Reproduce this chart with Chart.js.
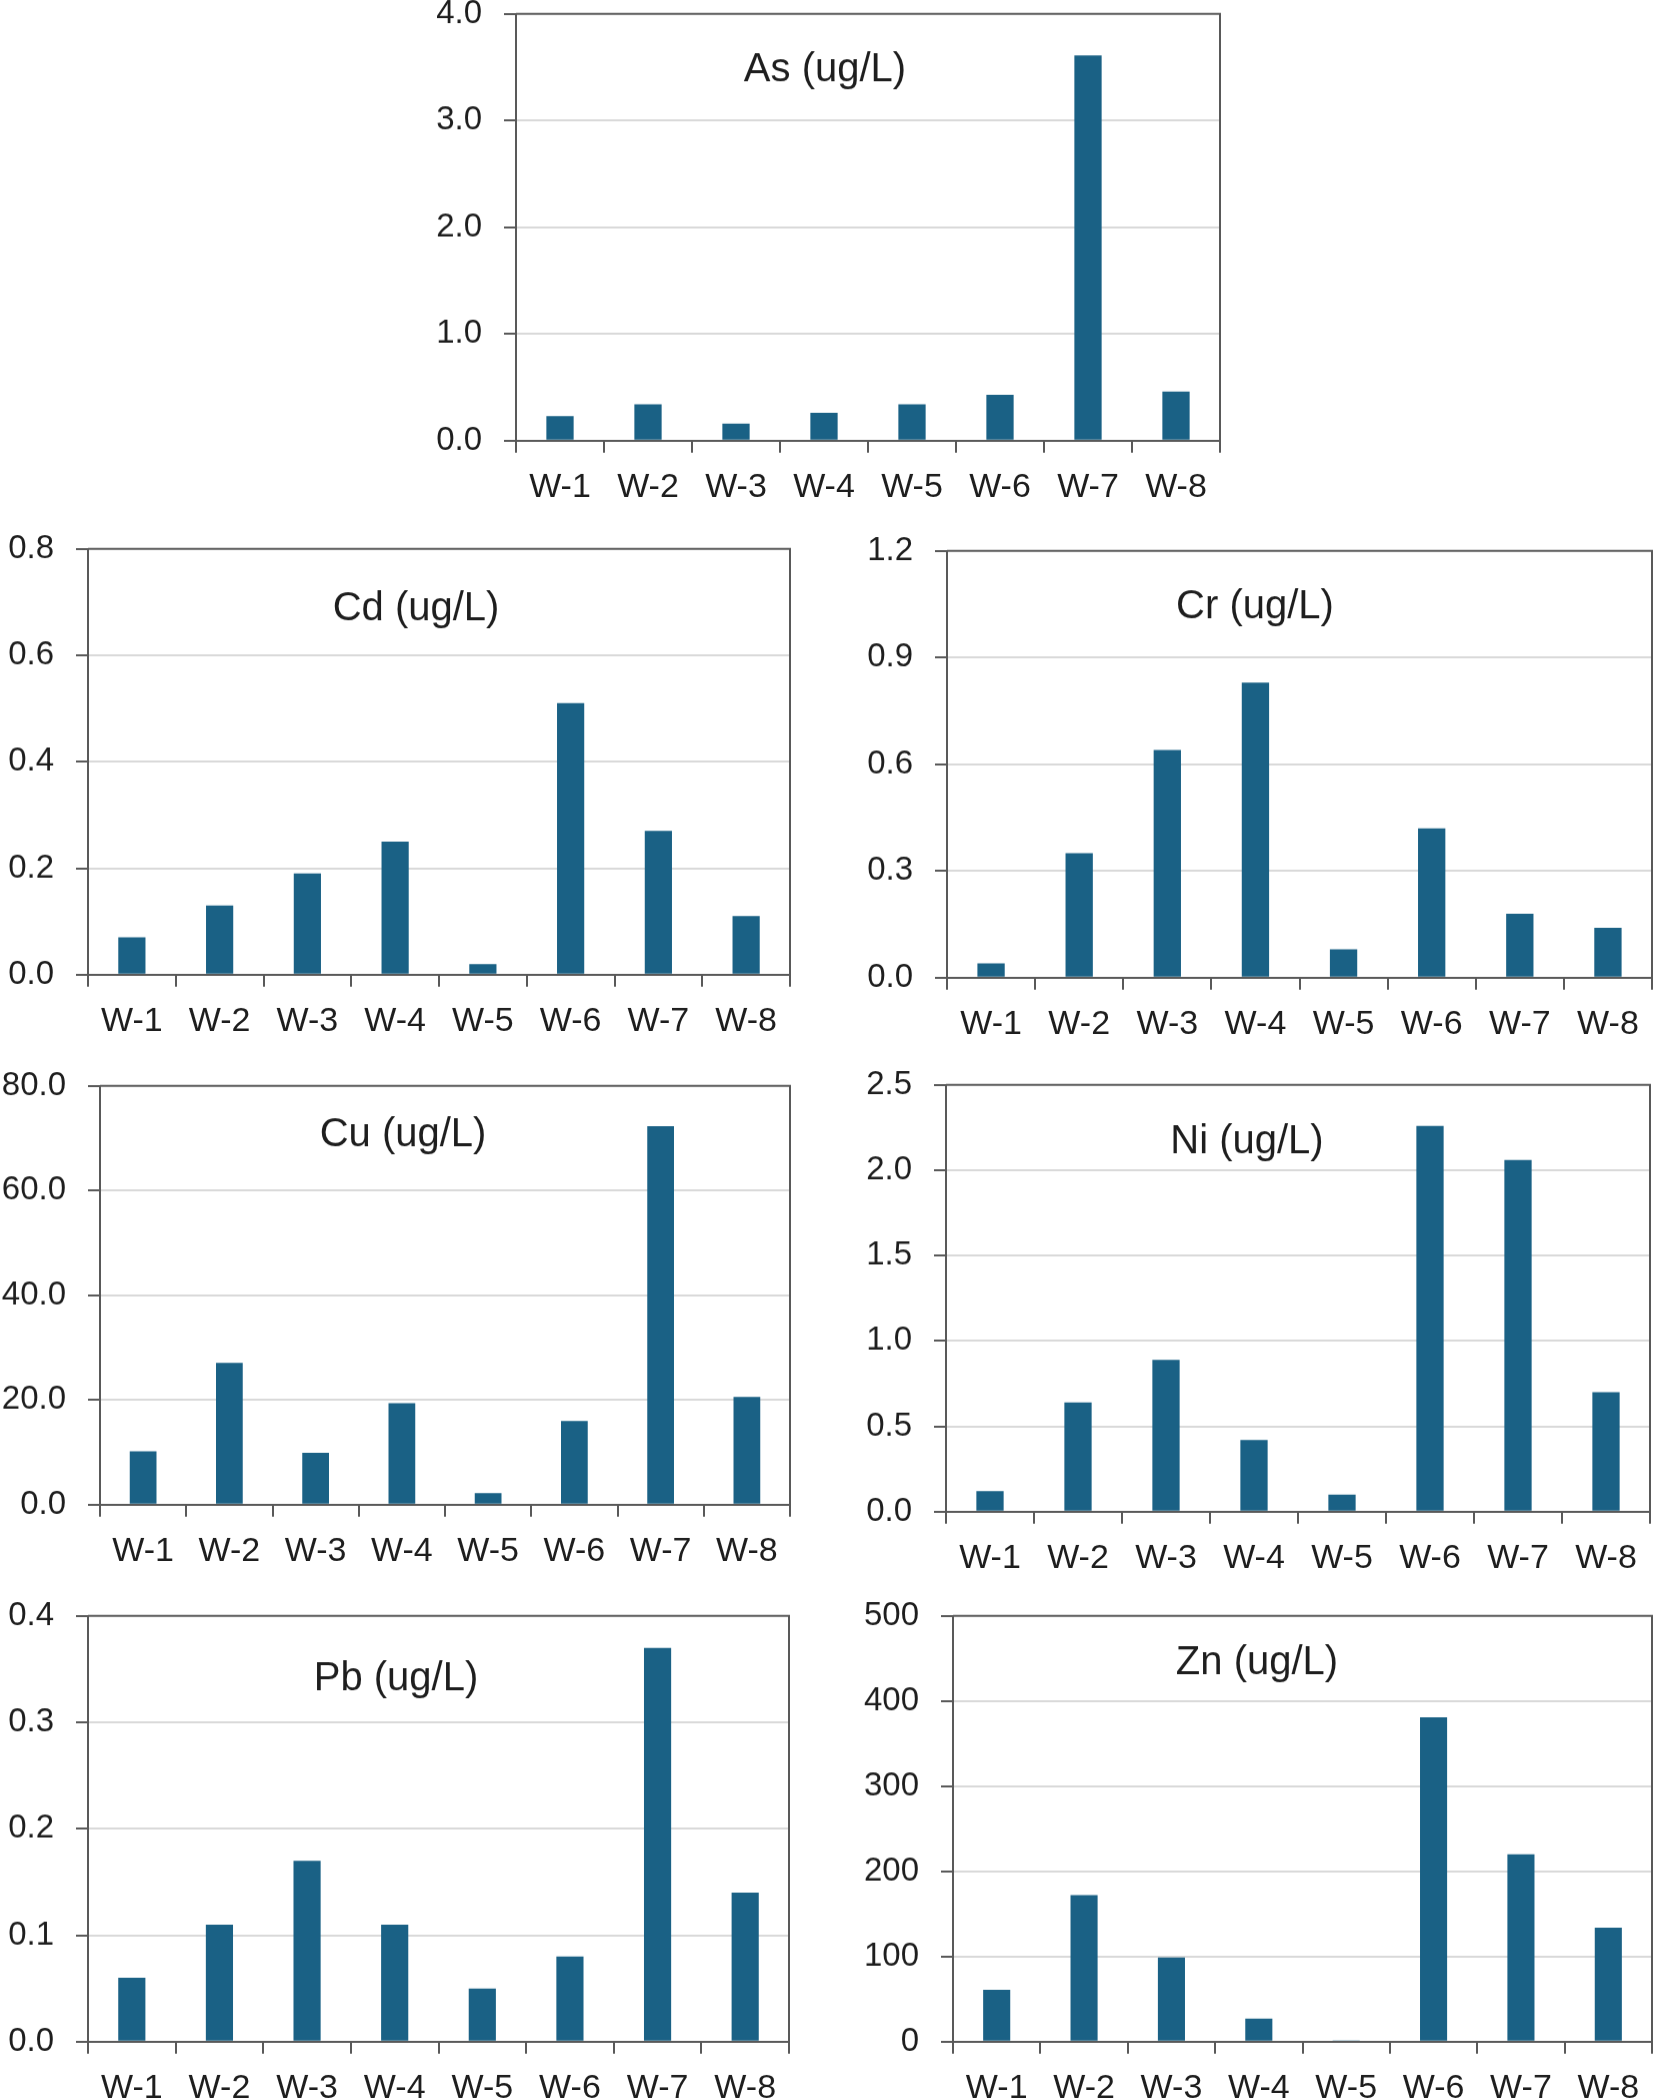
<!DOCTYPE html>
<html>
<head>
<meta charset="utf-8">
<script src="https://cdn.jsdelivr.net/npm/chart.js@4/dist/chart.umd.min.js"></script>
<style>
  html, body { margin: 0; padding: 0; background: #fff; }
  body { position: relative; width: 1655px; height: 2099px; overflow: hidden; }
  canvas { position: absolute; }
</style>
</head>
<body>
<canvas id="as"></canvas>
<canvas id="cd"></canvas>
<canvas id="cr"></canvas>
<canvas id="cu"></canvas>
<canvas id="ni"></canvas>
<canvas id="pb"></canvas>
<canvas id="zn"></canvas>
<script>
const wells = ['W-1', 'W-2', 'W-3', 'W-4', 'W-5', 'W-6', 'W-7', 'W-8'];

const asVals = [0.23, 0.34, 0.16, 0.26, 0.34, 0.43, 3.61, 0.46];
const cdVals = [0.07, 0.13, 0.19, 0.25, 0.02, 0.51, 0.27, 0.11];
const crVals = [0.04, 0.35, 0.64, 0.83, 0.08, 0.42, 0.18, 0.14];
const cuVals = [10.2, 27.1, 9.9, 19.4, 2.2, 16.0, 72.3, 20.6];
const niVals = [0.12, 0.64, 0.89, 0.42, 0.10, 2.26, 2.06, 0.70];
const pbVals = [0.06, 0.11, 0.17, 0.11, 0.05, 0.08, 0.37, 0.14];
const znVals = [61, 172, 99, 27, 1.5, 381, 220, 134];

const asTicks = [0, 1, 2, 3, 4];
const cdTicks = [0, 0.2, 0.4, 0.6, 0.8];
const crTicks = [0, 0.3, 0.6, 0.9, 1.2];
const cuTicks = [0, 20, 40, 60, 80];
const niTicks = [0, 0.5, 1.0, 1.5, 2.0, 2.5];
const pbTicks = [0, 0.1, 0.2, 0.3, 0.4];
const znTicks = [0, 100, 200, 300, 400, 500];

const barColor = '#1a6185';
const axisColor = '#595959';
const gridColor = '#d9d9d9';
const textColor = '#1e1e1e';
const fontFamily = '"Liberation Sans", Arial, sans-serif';

// draws the top/right frame and the in-plot title
const framePlugin = {
  id: 'frame',
  afterDatasetsDraw(chart, args, opts) {
    const {ctx, chartArea: a} = chart;
    ctx.save();
    ctx.strokeStyle = axisColor;
    ctx.lineWidth = 2;
    ctx.beginPath();
    ctx.moveTo(a.left, a.top);
    ctx.lineTo(a.right, a.top);
    ctx.lineTo(a.right, a.bottom);
    ctx.stroke();
    ctx.fillStyle = textColor;
    ctx.font = '40px ' + fontFamily;
    ctx.textAlign = 'center';
    ctx.textBaseline = 'middle';
    ctx.fillText(opts.text, a.left + opts.dx, a.top + opts.dy);
    ctx.restore();
  }
};

function makeChart(id, title, values, ticks, decimals, box) {
  const xh = 76;
  const yw = box.L - box.cx;
  const canvas = document.getElementById(id);
  const w = yw + (box.R - box.L) + 3;
  let h = (box.B - box.T) + xh + 18;
  canvas.style.left = box.cx + 'px';
  canvas.width = w;
  canvas.height = h;
  canvas.style.width = w + 'px';
  canvas.style.height = h + 'px';
  const maxV = ticks[ticks.length - 1];

  const chart = new Chart(canvas.getContext('2d'), {
    type: 'bar',
    data: {
      labels: wells,
      datasets: [{
        data: values,
        backgroundColor: barColor,
        categoryPercentage: 1,
        barPercentage: 0.31
      }]
    },
    options: {
      responsive: false,
      maintainAspectRatio: false,
      animation: false,
      layout: {padding: {top: 0, right: 3, left: 0, bottom: 0}},
      plugins: {
        legend: {display: false},
        tooltip: {enabled: false},
        frame: {text: title, dx: box.tx - box.L, dy: box.ty - box.T}
      },
      scales: {
        x: {
          afterFit: s => { s.height = xh; },
          border: {color: axisColor, width: 2},
          grid: {offset: true, drawOnChartArea: false, tickLength: 12, color: axisColor, lineWidth: 2},
          ticks: {font: {family: fontFamily, size: 34}, color: textColor, padding: 14, maxRotation: 0, autoSkip: false}
        },
        y: {
          min: ticks[0],
          max: maxV,
          afterBuildTicks: s => { s.ticks = ticks.map(v => ({value: v})); },
          afterFit: s => { s.width = yw; },
          border: {color: axisColor, width: 2},
          grid: {
            color: c => (c.tick && (c.tick.value === 0 || c.tick.value === maxV)) ? 'rgba(0,0,0,0)' : gridColor,
            tickColor: axisColor,
            lineWidth: 2,
            tickLength: 12
          },
          ticks: {
            font: {family: fontFamily, size: 33},
            color: textColor,
            padding: 22,
            callback: v => Number(v).toFixed(decimals)
          }
        }
      }
    },
    plugins: [framePlugin]
  });

  // line the plot area up with the reference frame
  const top = chart.chartArea.top;
  h = (box.B - box.T) + xh + top;
  chart.resize(w, h);
  canvas.style.top = (box.T - chart.chartArea.top) + 'px';
  return chart;
}

makeChart('as', 'As (ug/L)', asVals, asTicks, 1, {cx: 400, L: 516, R: 1220, T: 14, B: 440, tx: 825, ty: 70});
makeChart('cd', 'Cd (ug/L)', cdVals, cdTicks, 1, {cx: 0, L: 88, R: 790, T: 549, B: 974, tx: 416, ty: 609});
makeChart('cr', 'Cr (ug/L)', crVals, crTicks, 1, {cx: 830, L: 947, R: 1652, T: 551, B: 977, tx: 1255, ty: 607});
makeChart('cu', 'Cu (ug/L)', cuVals, cuTicks, 1, {cx: 0, L: 100, R: 790, T: 1086, B: 1504, tx: 403, ty: 1135});
makeChart('ni', 'Ni (ug/L)', niVals, niTicks, 1, {cx: 830, L: 946, R: 1650, T: 1085, B: 1511, tx: 1247, ty: 1142});
makeChart('pb', 'Pb (ug/L)', pbVals, pbTicks, 1, {cx: 0, L: 88, R: 789, T: 1616, B: 2041, tx: 396, ty: 1679});
makeChart('zn', 'Zn (ug/L)', znVals, znTicks, 0, {cx: 830, L: 953, R: 1652, T: 1616, B: 2041, tx: 1257, ty: 1663});
</script>
</body>
</html>
